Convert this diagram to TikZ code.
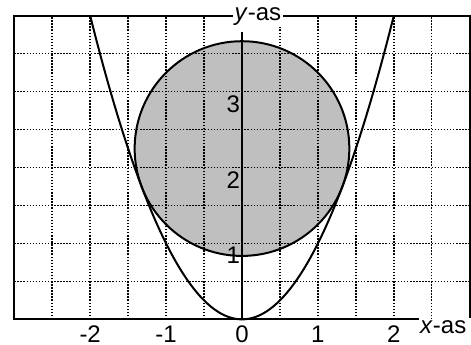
\documentclass[tikz,border=0pt]{standalone}
\usepackage{fontspec}
\setmainfont{Liberation Sans}
\begin{document}
\begin{tikzpicture}[
  gridline/.style={line width=0.55pt, dash pattern=on 0.55pt off 0.6pt},
  frameline/.style={line width=0.75pt},
  curve/.style={line width=0.75pt},
  lbl/.style={font=\fontsize{9}{10}\selectfont, inner sep=0pt},
]
\useasboundingbox (-3.188,-0.325) rectangle (3.017,4.207);
% filled disc
\fill[gray!50] (0,2.25) circle ({sqrt(2)});
% grid
\foreach \x in {-2.5,-2,-1.5,-1,-0.5,0.5,1,1.5,2,2.5}
  \draw[gridline] (\x,0) -- (\x,4);
\foreach \y in {0.5,1,1.5,2,2.5,3,3.5}
  \draw[gridline] (-3,\y) -- (3,\y);
% circle outline and parabola
\draw[curve] (0,2.25) circle ({sqrt(2)});
\draw[curve] plot[domain=-2:2, samples=121, smooth] (\x,{\x*\x});
% frame and axes
\coordinate (xend) at (2.33,0);
\coordinate (yend) at (0,3.79);
\coordinate (o) at (0,0);
\draw[frameline] (xend) -- (-3,0) -- (-3,4) -- (3,4) -- (3,0.02);
\draw[frameline] (o) -- (yend);
% axis labels
\node[lbl, anchor=base west, fill=white, inner sep=0.6pt] (ylab) at (-0.125,3.934) {\textit{y}-as};
\node[lbl, anchor=base west, fill=white, inner sep=0.6pt] (xlab) at (2.32,-0.185) {\textit{x}-as};
% tick labels
\foreach \x/\n in {-2/a,-1/b,0/c,1/d,2/e}
  \node[lbl, anchor=north] (xt\n) at (\x,-0.082) {\x};
\foreach \y in {1,2,3}
  \node[lbl, anchor=north east] (yt\y) at (-0.02,\y-0.045) {\y};
\end{tikzpicture}
\end{document}
